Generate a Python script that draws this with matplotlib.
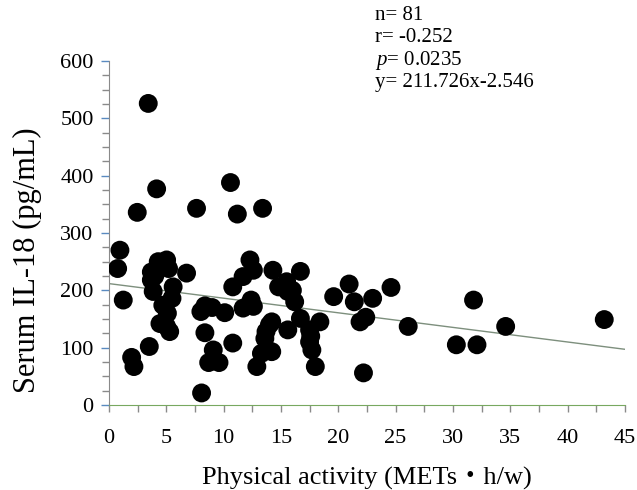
import matplotlib
matplotlib.use("Agg")
import numpy as np
import matplotlib.pyplot as plt
from matplotlib.ticker import MultipleLocator

# physical activity (METs*h/w) and serum IL-18 (pg/mL)
mets = [0.96, 0.76, 1.25, 1.98, 2.18, 2.47, 3.43, 3.52, 4.16, 4.3,
        5.03, 3.7, 5.2, 3.7, 3.86, 5.6, 5.5, 4.7, 4.45, 5.03,
        5.3, 6.77, 7.64, 8.02, 8.37, 8.37, 9.1, 8.7, 9.6, 8.08,
        10.1, 10.6, 11.2, 10.8, 10.8, 11.7, 12.3, 12.6, 11.7, 12.4,
        12.6, 13.4, 14.3, 14.8, 15.5, 15.6, 16.2, 16.7, 14.2, 13.7,
        13.6, 15.6, 16.7, 18.4, 17.5, 17.5, 17.7, 13.3, 14.2, 12.9,
        18.0, 19.6, 20.95, 21.4, 23.0, 24.6, 21.9, 22.4, 22.2, 26.1,
        31.8, 30.3, 32.1, 34.6, 43.2,
        4.0, 5.1, 14.0, 16.0, 9.0, 17.6]
il18 = [270, 238, 183, 83, 67, 336, 526, 102, 377, 250,
        253, 232, 238, 218, 198, 206, 186, 174, 142, 137,
        128, 230, 343, 163, 173, 126, 96, 74, 74, 21,
        161, 388, 333, 108, 206, 224, 253, 235, 169, 183,
        172, 343, 235, 206, 215, 198, 180, 233, 145, 128,
        116, 131, 151, 145, 131, 110, 96, 90, 93, 67,
        67, 189, 211, 180, 186, 205, 145, 153, 56, 137,
        183, 105, 105, 137, 149,
        225, 160, 140, 200, 170, 120]

intercept = 211.726
slope = -2.546

stats_lines = ["n= 81", "r= -0.252", "$\\mathit{p}$= 0.0235", "y= 211.726x-2.546"]

plt.rcParams['font.family'] = ['Liberation Serif', 'Noto Sans CJK JP']
plt.rcParams['mathtext.fontset'] = 'custom'
plt.rcParams['mathtext.it'] = 'Liberation Serif:italic'

fig = plt.figure(figsize=(6.37, 4.90), dpi=100)
ax = fig.add_axes([0.171, 0.1735, 0.81, 0.702])

ax.scatter(mets, il18, s=185, color='black', edgecolors='none', zorder=3)

xl = np.array([0, 45])
ax.plot(xl, intercept + slope * xl, color='#7d8f7d', linewidth=1.0, zorder=2)

ax.set_xlim(0, 45)
ax.set_ylim(0, 600)
ax.xaxis.set_major_locator(MultipleLocator(5))
ax.xaxis.set_minor_locator(MultipleLocator(2.5))
ax.yaxis.set_major_locator(MultipleLocator(100))
ax.yaxis.set_minor_locator(MultipleLocator(25))

for s in ['top', 'right']:
    ax.spines[s].set_visible(False)
ax.spines['left'].set_color('#8a8a8a')
ax.spines['bottom'].set_color('#78a860')
ax.tick_params(axis='x', which='both', length=5, width=1, color='#8a8a8a',
               labelsize=16, pad=12)
ax.tick_params(axis='y', which='major', length=6, width=1, color='#5a8ac0',
               labelsize=16, pad=5)
ax.tick_params(axis='y', which='minor', length=5, width=1, color='#8a8a8a')

ax.set_xlabel("Physical activity (METs\u30fbh/w)", fontsize=19, labelpad=14)
ax.set_ylabel("Serum IL-18 (pg/mL)", fontsize=22)
ax.yaxis.set_label_coords(-0.13, 0.42)

for i, line in enumerate(stats_lines):
    fig.text(375 / 637, 1 - (15 + 22.5 * i) / 490, line, fontsize=15,
             ha='left', va='center')

fig.savefig("out.png", dpi=100)
